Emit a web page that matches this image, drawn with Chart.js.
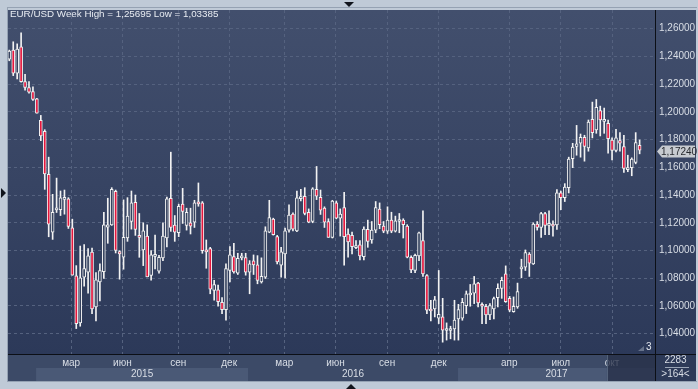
<!DOCTYPE html>
<html>
<head>
<meta charset="utf-8">
<script src="https://cdn.jsdelivr.net/npm/chart.js@4/dist/chart.umd.min.js"></script>
<style>
html,body{margin:0;padding:0;background:#bfcad7;}
canvas{display:block;}
</style>
</head>
<body>
<canvas id="chart" width="698" height="389"></canvas>
<script>
// EUR/USD weekly candles (oldest first)
const opens = [1.2380,1.2445,1.2278,1.2469,1.2218,1.2175,1.2146,1.2094,1.1938,1.1859,
1.1549,1.1133,1.1293,1.1295,1.1369,1.1372,1.1164,1.0817,1.0478,1.0808,
1.0844,1.0989,1.0593,1.0774,1.0848,1.1169,1.1185,1.1427,1.0992,1.0951,
1.1090,1.1209,1.1348,1.1106,1.1004,1.1104,1.0820,1.0958,1.0851,1.0946,
1.1090,1.1376,1.1183,1.1128,1.1334,1.1181,1.1200,1.1205,1.1350,1.1343,
1.1004,1.1013,1.0712,1.0717,1.0626,1.0574,1.0856,1.0956,1.0837,1.0947,
1.0949,1.0844,1.0925,1.0896,1.0774,1.0808,1.1133,1.1226,1.1100,1.0894,
1.0975,1.1147,1.1262,1.1142,1.1374,1.1391,1.1276,1.1209,1.1441,1.1384,
1.1305,1.1209,1.1095,1.1343,1.1233,1.1310,1.1119,1.1109,1.1021,1.1040,
1.0956,1.1152,1.1076,1.1147,1.1298,1.1176,1.1140,1.1219,1.1140,1.1209,
1.1219,1.1176,1.0951,1.0856,1.0961,1.1071,1.0820,1.0574,1.0578,1.0512,
1.0521,1.0423,1.0423,1.0435,1.0507,1.0512,1.0602,1.0679,1.0693,1.0765,
1.0612,1.0598,1.0535,1.0578,1.0660,1.0727,1.0832,1.0655,1.0559,1.0593,
1.0868,1.0880,1.0975,1.0904,1.1190,1.1166,1.1267,1.1181,1.1190,1.1185,
1.1415,1.1381,1.1453,1.1663,1.1750,1.1773,1.1816,1.1740,1.1945,1.1869,
1.2008,1.1931,1.1917,1.1797,1.1721,1.1793,1.1750,1.1582,1.1597,1.1635,
1.1759];
const highs = [1.2445,1.2505,1.2490,1.2569,1.2270,1.2218,1.2180,1.2098,1.1974,1.1871,
1.1673,1.1405,1.1522,1.1429,1.1436,1.1381,1.1226,1.0891,1.1032,1.1042,
1.1013,1.1018,1.0841,1.0903,1.1276,1.1377,1.1453,1.1436,1.0999,1.1365,
1.1381,1.1429,1.1400,1.1267,1.1200,1.1185,1.0999,1.1111,1.0965,1.1200,
1.1386,1.1709,1.1252,1.1334,1.1448,1.1305,1.1305,1.1362,1.1487,1.1353,
1.1076,1.1023,1.0784,1.0750,1.0660,1.0903,1.1028,1.1052,1.0980,1.0980,
1.0980,1.0927,1.0968,1.0963,1.0947,1.1171,1.1362,1.1233,1.1109,1.1023,
1.1162,1.1329,1.1272,1.1429,1.1441,1.1453,1.1300,1.1453,1.1606,1.1436,
1.1315,1.1229,1.1362,1.1357,1.1300,1.1420,1.1157,1.1133,1.1071,1.1071,
1.1171,1.1219,1.1209,1.1353,1.1343,1.1209,1.1315,1.1276,1.1248,1.1267,
1.1229,1.1186,1.0961,1.0975,1.1133,1.1286,1.0827,1.0641,1.0669,1.0856,
1.0655,1.0478,1.0454,1.0641,1.0612,1.0655,1.0708,1.0755,1.0813,1.0770,
1.0622,1.0612,1.0617,1.0665,1.0760,1.0808,1.0889,1.0669,1.0665,1.0765,
1.0937,1.1004,1.0985,1.1200,1.1209,1.1276,1.1276,1.1286,1.1214,1.1439,
1.1429,1.1482,1.1673,1.1773,1.1902,1.1840,1.1831,1.1941,1.2070,1.2089,
1.2041,1.2027,1.1941,1.1812,1.1874,1.1850,1.1831,1.1687,1.1668,1.1850,
1.1797];
const lows = [1.2368,1.2261,1.2237,1.2213,1.2156,1.2134,1.2082,1.1991,1.1792,1.1441,
1.1099,1.1080,1.1274,1.1252,1.1262,1.1159,1.0822,1.0437,1.0454,1.0743,
1.0693,1.0545,1.0492,1.0636,1.0798,1.1052,1.1181,1.0982,1.0793,1.0865,
1.1066,1.1154,1.1109,1.0951,1.0891,1.0810,1.0786,1.0867,1.0836,1.0927,
1.1025,1.1138,1.1066,1.1100,1.1195,1.1147,1.1119,1.1166,1.1319,1.0980,
1.0872,1.0688,1.0641,1.0598,1.0545,1.0497,1.0774,1.0836,1.0827,1.0932,
1.0822,1.0688,1.0827,1.0760,1.0765,1.0798,1.1128,1.1111,1.0903,1.0808,
1.0803,1.1133,1.1142,1.1135,1.1358,1.1257,1.1200,1.1200,1.1367,1.1260,
1.1166,1.1095,1.1090,1.1228,1.1104,1.0894,1.0951,1.0975,1.1013,1.0932,
1.0932,1.1023,1.1052,1.1128,1.1157,1.1128,1.1123,1.1128,1.1133,1.1128,
1.1090,1.0947,1.0841,1.0841,1.0927,1.0813,1.0545,1.0492,1.0521,1.0473,
1.0339,1.0354,1.0363,1.0354,1.0354,1.0497,1.0545,1.0598,1.0617,1.0593,
1.0473,1.0473,1.0502,1.0507,1.0593,1.0655,1.0626,1.0559,1.0555,1.0583,
1.0803,1.0856,1.0813,1.0899,1.1147,1.1095,1.1114,1.1114,1.1104,1.1152,
1.1295,1.1353,1.1415,1.1597,1.1687,1.1673,1.1644,1.1716,1.1812,1.1845,
1.1826,1.1845,1.1702,1.1654,1.1711,1.1716,1.1563,1.1568,1.1539,1.1625,
1.1697];
const closes = [1.2438,1.2278,1.2452,1.2218,1.2175,1.2141,1.2089,1.1991,1.1826,1.1553,
1.1190,1.1276,1.1298,1.1379,1.1384,1.1173,1.0822,1.0473,1.0803,1.0870,
1.0961,1.0578,1.0789,1.0856,1.1185,1.1185,1.1441,1.1001,1.0975,1.1095,
1.1248,1.1343,1.1152,1.1095,1.1142,1.0810,1.0968,1.0968,1.0951,1.1104,
1.1372,1.1166,1.1133,1.1319,1.1281,1.1276,1.1176,1.1343,1.1336,1.0999,
1.0990,1.0722,1.0755,1.0631,1.0574,1.0870,1.0968,1.0846,1.0944,1.0949,
1.0844,1.0904,1.0896,1.0784,1.0813,1.1142,1.1238,1.1114,1.0918,1.0990,
1.1142,1.1255,1.1154,1.1379,1.1386,1.1267,1.1205,1.1444,1.1391,1.1291,
1.1205,1.1095,1.1357,1.1233,1.1262,1.1100,1.1061,1.1028,1.1035,1.0961,
1.1154,1.1066,1.1147,1.1310,1.1186,1.1140,1.1219,1.1140,1.1214,1.1219,
1.1186,1.0951,1.0860,1.0966,1.1128,1.0832,1.0569,1.0564,1.0645,1.0540,
1.0426,1.0437,1.0437,1.0498,1.0574,1.0626,1.0688,1.0688,1.0760,1.0622,
1.0598,1.0535,1.0602,1.0653,1.0727,1.0784,1.0631,1.0569,1.0598,1.0703,
1.0880,1.0985,1.0908,1.1190,1.1166,1.1267,1.1181,1.1190,1.1176,1.1415,
1.1381,1.1458,1.1659,1.1745,1.1769,1.1816,1.1750,1.1926,1.1850,1.2032,
1.1941,1.1945,1.1807,1.1721,1.1812,1.1773,1.1592,1.1597,1.1659,1.1778,
1.1724];

// axis ticks (x positions are bar numbers)
const yTicks = [1.04,1.06,1.08,1.10,1.12,1.14,1.16,1.18,1.20,1.22,1.24,1.26];
const monthPos = [15.7,28.7,42.9,55.8,69.8,82.8,95.9,109.0,126.9,140.0,153.0];
const monthLabels = ['мар','июн','сен','дек','мар','июн','сен','дек','апр','июл','окт'];
const yearStart = [6.8,60.6,113.9];
const yearLabels = ['2015','2016','2017'];

const title = 'EUR/USD Week High = 1,25695 Low = 1,03385';
const FONT = '"Liberation Sans", Arial, sans-serif';
const UP_FILL = '#36435f', DOWN_FILL = '#e5163d', EDGE = '#f2f2f2';
const GRID = '#55627f';

const fmt = v => v.toFixed(5).replace('.', ',');

// backgrounds, frame and extra labels
const decor = {
    id: 'decor',
    beforeDraw(chart){
        const {ctx, chartArea:a, width, height} = chart;
        const x = chart.scales.x;
        const axBottom = height - 8, right = width - 2;
        ctx.save();
        ctx.fillStyle = '#bfcad7';
        ctx.fillRect(0, 0, width, height);
        ctx.fillStyle = '#95a2b3';
        ctx.fillRect(7, 7, right - 7 + 1, 1);
        ctx.fillRect(7, 7, 1, axBottom - 7);
        ctx.fillRect(7, axBottom, right - 7 + 1, 1);

        let g = ctx.createLinearGradient(0, a.top, 0, a.bottom);
        g.addColorStop(0, '#424f6d');
        g.addColorStop(1, '#2c3959');
        ctx.fillStyle = g;
        ctx.fillRect(a.left, a.top, right - a.left, a.bottom - a.top);

        // time axis strip
        ctx.fillStyle = '#3c4a67';
        ctx.fillRect(a.left, a.bottom, a.right - a.left, axBottom - a.bottom);
        ctx.fillStyle = '#2d3a58';
        ctx.fillRect(a.right, a.bottom, right - a.right, axBottom - a.bottom);

        // year bands
        for(let i = 0; i < yearStart.length; i += 2){
            let x0 = x.getPixelForValue(yearStart[i]);
            let x1 = i + 1 < yearStart.length ? x.getPixelForValue(yearStart[i+1]) : a.right;
            ctx.fillStyle = '#4a5976';
            ctx.fillRect(x0, a.bottom + 14, Math.min(x1, a.right) - x0, axBottom - a.bottom - 14);
        }
        ctx.restore();
    },
    afterDraw(chart){
        const {ctx, chartArea:a, width, height} = chart;
        const x = chart.scales.x, y = chart.scales.y;
        const axBottom = height - 8, right = width - 2;
        ctx.save();

        // year labels
        ctx.font = '10px ' + FONT;
        ctx.fillStyle = '#d9dee6';
        ctx.textAlign = 'center';
        ctx.textBaseline = 'middle';
        yearLabels.forEach((lab, i)=>{
            let x0 = x.getPixelForValue(yearStart[i]);
            let x1 = i + 1 < yearStart.length ? x.getPixelForValue(yearStart[i+1]) : a.right;
            ctx.fillText(lab, (x0 + x1) / 2, a.bottom + 20);
        });

        // shaded scroll box on the time axis
        ctx.fillStyle = 'rgba(38,48,72,0.78)';
        let sx = x.getPixelForValue(151.7);
        ctx.fillRect(sx, a.bottom + 1, a.right - sx, axBottom - a.bottom - 1);
        ctx.fillStyle = '#58667f';
        ctx.fillRect(sx, a.bottom + 1, 1, axBottom - a.bottom - 1);

        // dividers
        ctx.fillStyle = '#0c0f16';
        ctx.fillRect(a.right, a.top, 1, axBottom - a.top);
        ctx.fillRect(a.left, a.bottom, right - a.left, 1);

        // title
        ctx.font = '9.8px ' + FONT;
        ctx.fillStyle = '#e8ecf2';
        ctx.textAlign = 'left';
        ctx.fillText(title, 10, 14.5);

        // last price tag
        let last = closes[closes.length - 1];
        let py = Math.round(y.getPixelForValue(last)) + 1.5;
        ctx.fillStyle = '#c7cbd0';
        ctx.beginPath();
        ctx.moveTo(a.right + 2, py);
        ctx.lineTo(a.right + 7, py - 6);
        ctx.lineTo(right - 1, py - 6);
        ctx.lineTo(right - 1, py + 6);
        ctx.lineTo(a.right + 7, py + 6);
        ctx.closePath();
        ctx.fill();
        ctx.font = '10px ' + FONT;
        ctx.fillStyle = '#26292e';
        ctx.fillText(fmt(last), a.right + 6, py + 0.5);

        // bar counters
        ctx.fillStyle = '#e3e7ee';
        ctx.fillText('3', a.right - 9, a.bottom - 7);
        ctx.fillStyle = '#66728a';
        ctx.beginPath();
        ctx.moveTo(a.right - 17, a.bottom - 3);
        ctx.lineTo(a.right - 11, a.bottom - 3);
        ctx.lineTo(a.right - 11, a.bottom - 8);
        ctx.closePath();
        ctx.fill();
        ctx.fillStyle = '#d9dee6';
        ctx.textAlign = 'center';
        ctx.fillText('2283', (a.right + right) / 2, a.bottom + 6.5);
        ctx.fillText('>164<', (a.right + right) / 2, a.bottom + 20);
        ctx.fillStyle = '#9aa5b6';
        ctx.fillRect(a.right + 10, a.bottom + 13, 24, 1);

        // frame arrows
        ctx.fillStyle = '#10141c';
        ctx.beginPath();
        ctx.moveTo(344, 2); ctx.lineTo(354, 2); ctx.lineTo(349, 7); ctx.closePath(); ctx.fill();
        ctx.beginPath();
        ctx.moveTo(1, 188); ctx.lineTo(6, 193); ctx.lineTo(1, 198); ctx.closePath(); ctx.fill();
        ctx.beginPath();
        ctx.moveTo(346, 389); ctx.lineTo(356, 389); ctx.lineTo(351, 384); ctx.closePath(); ctx.fill();
        ctx.restore();
    }
};

const idx = opens.map((o, i) => i);
const bodyColors = idx.map(i => closes[i] < opens[i] ? DOWN_FILL : UP_FILL);

new Chart(document.getElementById('chart'), {
    type: 'bar',
    data: {
        datasets: [
            {
                label: 'body',
                data: idx.map(i => ({x: i, y: [opens[i], closes[i]]})),
                backgroundColor: bodyColors,
                borderColor: EDGE,
                borderWidth: 1,
                borderSkipped: false,
                barThickness: 3,
                minBarLength: 2,
                grouped: false
            },
            {
                label: 'wick',
                data: idx.map(i => ({x: i, y: [lows[i], highs[i]]})),
                backgroundColor: EDGE,
                borderWidth: 0,
                barThickness: 1,
                grouped: false
            }
        ]
    },
    options: {
        responsive: false,
        animation: false,
        devicePixelRatio: 1,
        layout: {padding: {left: 8, top: 8, right: 2, bottom: 8}},
        plugins: {legend: {display: false}, tooltip: {enabled: false}},
        scales: {
            x: {
                type: 'linear',
                min: -0.33,
                max: 163.9,
                offset: false,
                afterBuildTicks: s => { s.ticks = monthPos.map(v => ({value: v})); },
                afterFit: s => { s.height = 27; },
                ticks: {
                    callback: (v, i) => monthLabels[i],
                    autoSkip: false,
                    maxRotation: 0,
                    padding: 3,
                    color: '#d9dee6',
                    font: {family: FONT, size: 10}
                },
                grid: {color: GRID, drawTicks: false, offset: false},
                border: {display: false, dash: [3, 3]}
            },
            y: {
                position: 'right',
                min: 1.02537,
                max: 1.27341,
                afterBuildTicks: s => { s.ticks = yTicks.map(v => ({value: v})); },
                afterFit: s => { s.width = 41; },
                ticks: {
                    callback: v => fmt(v),
                    padding: 4,
                    color: '#d9dee6',
                    font: {family: FONT, size: 10}
                },
                grid: {color: GRID, drawTicks: false},
                border: {display: false, dash: [3, 3]}
            }
        }
    },
    plugins: [decor]
});
</script>
</body>
</html>
